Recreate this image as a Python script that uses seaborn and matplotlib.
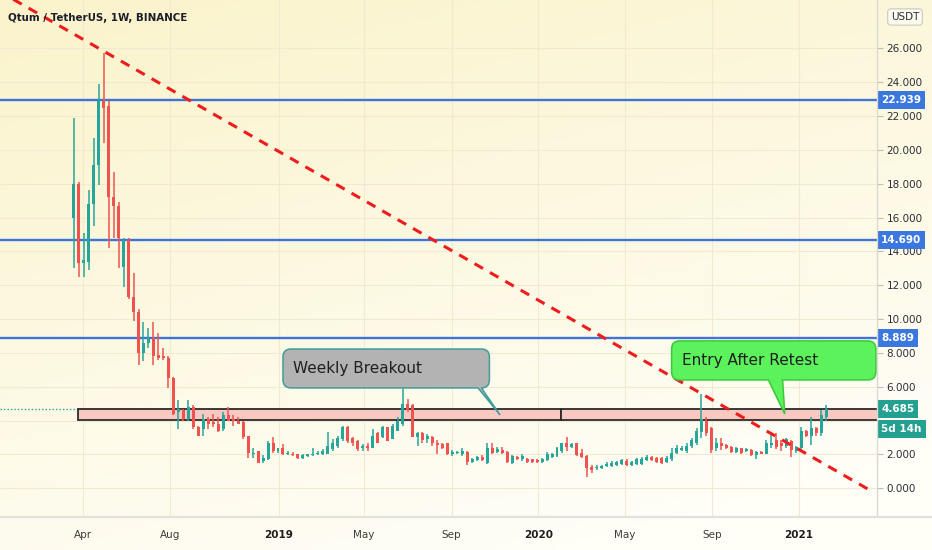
import numpy as np
import pandas as pd
import seaborn as sns
import matplotlib
matplotlib.use("Agg")
import matplotlib.pyplot as plt
import matplotlib.dates as mdates
from matplotlib.patches import Rectangle, PathPatch
from matplotlib.path import Path
from matplotlib.transforms import IdentityTransform, blended_transform_factory, offset_copy
from matplotlib.lines import Line2D

# weekly QTUM/USDT candles (Binance)
week_start = "2018-03-19"
opens = [16.0, 18.0, 13.3, 13.4, 16.8, 19.1, 22.9, 22.6, 17.2, 16.7,
         13.1, 14.7, 11.3, 10.4, 8.0, 8.6, 8.9, 7.9, 7.8, 7.7,
         6.5, 4.5, 4.6, 4.1, 4.8, 3.6, 3.5, 4.1, 3.9, 3.8,
         3.5, 4.3, 4.1, 4.0, 3.9, 3.1, 2.05, 2.2, 1.6, 1.7,
         2.7, 2.2, 2.35, 2.05, 2.05, 2.0, 1.8, 1.9, 1.95, 2.0,
         2.0, 2.05, 2.3, 2.5, 2.9, 3.6, 2.95, 2.8, 2.35, 2.5,
         2.4, 3.25, 3.0, 3.6, 2.9, 3.4, 3.8, 5.0, 4.9, 3.0,
         3.25, 2.9, 3.0, 2.7, 2.6, 2.65, 2.05, 2.1, 2.0, 2.15,
         1.55, 1.65, 1.85, 1.5, 2.4, 2.15, 2.25, 2.15, 1.5, 1.85,
         1.7, 1.75, 1.7, 1.65, 1.55, 1.65, 1.85, 1.9, 2.2, 2.7,
         2.45, 2.65, 2.1, 1.9, 1.25, 1.2, 1.2, 1.3, 1.3, 1.35,
         1.45, 1.6, 1.35, 1.45, 1.45, 1.65, 1.85, 1.8, 1.8, 1.55,
         1.7, 2.1, 2.25, 2.2, 2.5, 2.65, 3.3, 4.0, 3.55, 2.35,
         2.65, 2.55, 2.45, 2.15, 2.35, 2.2, 2.25, 1.95, 2.15, 2.05,
         2.55, 2.85, 2.7, 2.5, 2.8, 2.2, 2.35, 3.4, 3.1, 3.55,
         3.25, 4.2]
highs = [21.9, 18.1, 15.1, 17.6, 20.7, 23.9, 25.7, 22.9, 18.7, 16.9,
         14.8, 14.8, 12.7, 10.6, 9.8, 9.5, 9.8, 9.2, 8.3, 7.8,
         6.6, 5.2, 4.7, 5.2, 4.9, 3.7, 4.4, 4.2, 4.4, 4.2,
         4.5, 4.8, 4.3, 4.2, 4.0, 3.1, 2.4, 2.2, 1.95, 2.8,
         3.0, 2.4, 2.6, 2.2, 2.15, 2.05, 2.0, 2.05, 2.4, 2.2,
         2.3, 3.3, 2.9, 3.1, 3.7, 3.7, 3.0, 2.85, 2.6, 2.7,
         3.5, 3.3, 3.7, 3.6, 3.8, 4.2, 5.9, 5.3, 5.0, 3.3,
         3.3, 3.2, 3.1, 2.85, 2.7, 2.7, 2.25, 2.2, 2.35, 2.2,
         1.8, 1.9, 1.95, 2.7, 2.7, 2.45, 2.45, 2.2, 1.95, 1.9,
         2.0, 1.8, 1.75, 1.7, 1.8, 2.15, 2.1, 2.45, 2.7, 3.05,
         2.7, 2.7, 2.3, 1.95, 1.35, 1.35, 1.4, 1.55, 1.6, 1.6,
         1.75, 1.7, 1.6, 1.8, 1.85, 1.95, 1.9, 1.85, 1.85, 1.9,
         2.35, 2.55, 2.5, 2.7, 2.95, 3.55, 5.6, 4.2, 3.6, 2.95,
         2.95, 2.6, 2.5, 2.45, 2.4, 2.35, 2.3, 2.2, 2.2, 2.85,
         3.25, 3.25, 2.85, 2.95, 2.85, 2.5, 3.6, 3.45, 4.2, 3.6,
         4.6, 4.9]
lows = [13.0, 12.5, 12.5, 12.9, 15.5, 17.9, 20.4, 14.2, 14.8, 13.0,
        11.9, 11.2, 9.9, 7.3, 7.5, 8.3, 7.3, 7.6, 7.6, 5.9,
        4.3, 3.5, 4.0, 4.0, 3.5, 3.1, 3.1, 3.5, 3.6, 3.3,
        3.4, 4.0, 3.7, 3.8, 2.9, 1.8, 1.8, 1.5, 1.5, 1.65,
        2.1, 2.1, 1.95, 1.95, 1.9, 1.75, 1.75, 1.85, 1.9, 1.95,
        1.95, 2.0, 2.2, 2.4, 2.8, 2.7, 2.5, 2.2, 2.2, 2.2,
        2.35, 2.65, 2.95, 2.8, 2.9, 3.4, 3.7, 4.5, 3.0, 2.5,
        2.7, 2.7, 2.5, 2.0, 2.3, 1.95, 1.9, 2.0, 1.9, 1.35,
        1.5, 1.6, 1.6, 1.45, 2.0, 2.1, 2.05, 1.5, 1.45, 1.65,
        1.6, 1.5, 1.5, 1.5, 1.5, 1.6, 1.8, 1.85, 2.1, 2.2,
        2.35, 1.9, 1.8, 0.65, 0.9, 1.1, 1.15, 1.25, 1.25, 1.3,
        1.4, 1.3, 1.3, 1.4, 1.4, 1.6, 1.6, 1.5, 1.45, 1.5,
        1.6, 2.0, 2.2, 2.1, 2.4, 2.55, 2.95, 3.1, 2.1, 2.2,
        2.25, 2.3, 2.1, 2.1, 2.0, 2.15, 1.9, 1.7, 2.0, 2.0,
        2.4, 2.3, 2.2, 2.4, 1.85, 2.1, 2.3, 3.0, 2.55, 3.1,
        3.1, 4.0]
closes = [18.0, 13.3, 13.5, 16.8, 19.1, 22.9, 22.5, 17.2, 16.7, 14.8,
          14.7, 11.3, 10.4, 8.0, 8.6, 8.9, 7.8, 7.7, 7.7, 6.5,
          4.4, 4.7, 4.1, 4.8, 3.6, 3.1, 4.1, 3.8, 3.8, 3.4,
          4.3, 4.0, 4.0, 3.8, 3.0, 2.1, 2.1, 1.5, 1.8, 2.7,
          2.2, 2.35, 2.0, 2.1, 1.95, 1.8, 1.95, 2.0, 2.05, 2.1,
          2.2, 2.5, 2.65, 2.95, 3.6, 2.8, 2.65, 2.3, 2.5, 2.35,
          3.1, 2.65, 3.6, 2.8, 3.65, 3.95, 5.0, 4.6, 3.0, 3.25,
          2.85, 3.1, 2.65, 2.55, 2.4, 2.05, 2.15, 2.15, 2.2, 1.55,
          1.75, 1.85, 1.65, 2.4, 2.1, 2.3, 2.1, 1.55, 1.9, 1.7,
          1.9, 1.55, 1.55, 1.55, 1.75, 2.0, 2.05, 2.35, 2.65, 2.45,
          2.6, 1.95, 1.85, 1.2, 1.05, 1.25, 1.3, 1.45, 1.5, 1.55,
          1.65, 1.35, 1.55, 1.7, 1.75, 1.85, 1.65, 1.55, 1.5, 1.8,
          2.1, 2.35, 2.4, 2.5, 2.85, 3.4, 4.1, 3.25, 2.25, 2.65,
          2.5, 2.35, 2.15, 2.4, 2.1, 2.3, 1.95, 2.15, 2.05, 2.65,
          2.7, 2.45, 2.5, 2.9, 2.25, 2.45, 3.4, 3.1, 3.55, 3.25,
          4.3, 4.685]

# drawings
levels = [22.939, 14.690, 8.889]
last_price = 4.685
zone_low = 4.04
zone_starts = ["2018-03-25", "2020-02-01"]
zone_ends = ["2020-02-01", "2021-05-01"]
trend_dates = ["2017-12-24", "2021-04-10"]
trend_prices = [28.9, -0.1]

price_ticks = [0, 2, 4, 6, 8, 10, 12, 14, 16, 18, 20, 22, 24, 26]
hidden_ticks = [4]  # covered by the last-price tags
tick_dates = ["2018-04-01", "2018-08-01", "2019-01-01", "2019-05-01", "2019-09-01",
              "2020-01-01", "2020-05-01", "2020-09-01", "2021-01-01"]
tick_labels = ["Apr", "Aug", "2019", "May", "Sep", "2020", "May", "Sep", "2021"]

GREEN = "#26a69a"
RED = "#ef5350"
BLUE = "#3e74d8"

sns.set_theme(style="white")
plt.rcParams["font.family"] = ["DejaVu Sans"]

df = pd.DataFrame({"date": pd.date_range(week_start, periods=len(opens), freq="7D"),
                   "open": opens, "high": highs, "low": lows, "close": closes})
df["x"] = mdates.date2num(df["date"])
up = df["close"] >= df["open"]
df["color"] = np.where(up, GREEN, RED)

fig = plt.figure(figsize=(9.32, 5.5), dpi=100)

# yellowish gradient background
bg = fig.add_axes([0, 0, 1, 1], zorder=-5)
h, w = 110, 186
yy, xx = np.mgrid[0:h, 0:w]
t = np.clip(0.8 * yy / h + 0.35 * xx / w, 0, 1)[..., None]
c0 = np.array([250, 243, 203]) / 255
c1 = np.array([255, 254, 247]) / 255
bg.imshow(c0 * (1 - t) + c1 * t, aspect="auto", extent=[0, 1, 0, 1])
bg.axis("off")

ax = fig.add_axes([0, 33 / 550, 877 / 932, 517 / 550])
ax.set_facecolor("none")
x_lo = mdates.date2num(pd.Timestamp("2018-04-01")) - 116.6
x_hi = mdates.date2num(pd.Timestamp("2018-04-01")) + 1115.6
ax.set_xlim(x_lo, x_hi)
ax.set_ylim(-1.70, 28.86)

# grid
ax.set_yticks(price_ticks)
ax.set_xticks(mdates.date2num(pd.to_datetime(tick_dates)))
ax.grid(True, color="#f1ead0", lw=0.8)
for s in ax.spines.values():
    s.set_visible(False)

# current price dotted line
ax.axhline(last_price, color=GREEN, ls=(0, (1, 1.5)), lw=1, zorder=1)

# support/resistance zone
for s0, s1 in zip(zone_starts, zone_ends):
    a = mdates.date2num(pd.Timestamp(s0))
    b = mdates.date2num(pd.Timestamp(s1))
    ax.add_patch(Rectangle((a, zone_low), b - a, last_price - zone_low,
                           fc="#f9c8c0", ec="#2b2b2b", lw=1.3, zorder=2))

for lv in levels:
    ax.axhline(lv, color=BLUE, lw=1.7, zorder=3)

# candles
ax.vlines(df["x"], df["low"], df["high"], colors=df["color"], lw=1.1, zorder=4)
body_lo = np.minimum(df["open"], df["close"])
body_h = np.maximum((df["close"] - df["open"]).abs(), 0.05)
ax.bar(df["x"], body_h, bottom=body_lo, width=4.2, color=df["color"], lw=0, zorder=5)

# down trend line
sns.lineplot(x=mdates.date2num(pd.to_datetime(trend_dates)), y=trend_prices, ax=ax,
             color="#ee1c1c", lw=2.2, linestyle=(0, (3.2, 2.6)), zorder=6)

# axes styling
ax.yaxis.tick_right()
ax.set_yticklabels(["" if v in hidden_ticks else f"{v:.3f}" for v in price_ticks])
ax.tick_params(axis="y", length=4, width=0.8, color="#bdbdb5", pad=3,
               labelsize=7.5, labelcolor="#2a2e39")
ax.set_xticklabels(tick_labels)
ax.tick_params(axis="x", length=0, pad=9, labelsize=7.5, labelcolor="#3d3d3d")
for lab in ax.get_xticklabels():
    if lab.get_text().isdigit():
        lab.set_fontweight("bold")
        lab.set_color("#1e1e1e")
ax.set_xlabel("")
ax.set_ylabel("")

fig.add_artist(Line2D([877 / 932, 877 / 932], [33 / 550, 1], color="#dcdad0", lw=1))
fig.add_artist(Line2D([0, 1], [33 / 550, 33 / 550], color="#e2e1dc", lw=1.6))

# price tags on the right scale
tag_tr = offset_copy(blended_transform_factory(ax.transAxes, ax.transData), fig=fig, x=4, units="dots")
for lv in levels:
    ax.text(1.0, lv, f"{lv:.3f}", transform=tag_tr, ha="left", va="center", color="white",
            fontsize=7.5, fontweight="bold", clip_on=False, zorder=20,
            bbox=dict(boxstyle="square,pad=0.4", fc="#3a78e0", ec="none"))
ax.text(1.0, last_price, f"{last_price:.3f}", transform=tag_tr, ha="left", va="center",
        color="white", fontsize=7.5, fontweight="bold", clip_on=False, zorder=20,
        bbox=dict(boxstyle="square,pad=0.4", fc="#23a08f", ec="none"))
ax.text(1.0, 3.52, "5d 14h", transform=tag_tr, ha="left", va="center",
        color="white", fontsize=7.5, fontweight="bold", clip_on=False, zorder=20,
        bbox=dict(boxstyle="square,pad=0.4", fc="#23a08f", ec="none"))

fig.text(905 / 932, 1 - 17 / 550, "USDT", ha="center", va="center", fontsize=7.5, color="#2a2e39",
         bbox=dict(boxstyle="round,pad=0.3,rounding_size=0.3", fc="#fdfbee", ec="#c8c8c0", lw=0.8),
         zorder=30)

fig.text(8 / 932, 1 - 18 / 550, "Qtum / TetherUS, 1W, BINANCE", ha="left", va="center",
         fontsize=7.4, fontweight="semibold", color="#1c1f2a")


def callout(x0, x1, y0, y1, base0, base1, tip_x, tip_y, fc, ec, label):
    tr = ax.transData.transform
    X0, Y0 = tr((mdates.date2num(pd.Timestamp(x0)), y0))
    X1, Y1 = tr((mdates.date2num(pd.Timestamp(x1)), y1))
    B0 = tr((mdates.date2num(pd.Timestamp(base0)), y0))[0]
    B1 = tr((mdates.date2num(pd.Timestamp(base1)), y0))[0]
    TX, TY = tr((mdates.date2num(pd.Timestamp(tip_x)), tip_y))
    r = 8
    B1 = min(B1, X1 - r)
    verts = [(X0 + r, Y1), (X1 - r, Y1), (X1, Y1), (X1, Y1 - r), (X1, Y0 + r),
             (X1, Y0), (X1 - r, Y0), (B1, Y0), (TX, TY), (B0, Y0), (X0 + r, Y0),
             (X0, Y0), (X0, Y0 + r), (X0, Y1 - r), (X0, Y1), (X0 + r, Y1), (X0 + r, Y1)]
    codes = [Path.MOVETO, Path.LINETO, Path.CURVE3, Path.CURVE3, Path.LINETO,
             Path.CURVE3, Path.CURVE3, Path.LINETO, Path.LINETO, Path.LINETO, Path.LINETO,
             Path.CURVE3, Path.CURVE3, Path.LINETO, Path.CURVE3, Path.CURVE3, Path.CLOSEPOLY]
    fig.add_artist(PathPatch(Path(verts, codes), transform=IdentityTransform(),
                             fc=fc, ec=ec, lw=1.1, zorder=10))
    fig.text(X0 + 10, (Y0 + Y1) / 2, label, transform=IdentityTransform(),
             ha="left", va="center", fontsize=11, color="#1f1f1f", zorder=11)


callout("2019-01-07", "2019-10-24", 5.93, 8.23, "2019-10-08", "2019-10-24",
        "2019-11-08", 4.33, "#b3b3b3", "#3f9c9c", "Weekly Breakout")
callout("2020-07-06", "2021-04-19", 6.40, 8.71, "2020-11-19", "2020-12-09",
        "2020-12-12", 4.39, "#5cf25c", "#3cc83c", "Entry After Retest")

fig.savefig("out.png", dpi=100)
